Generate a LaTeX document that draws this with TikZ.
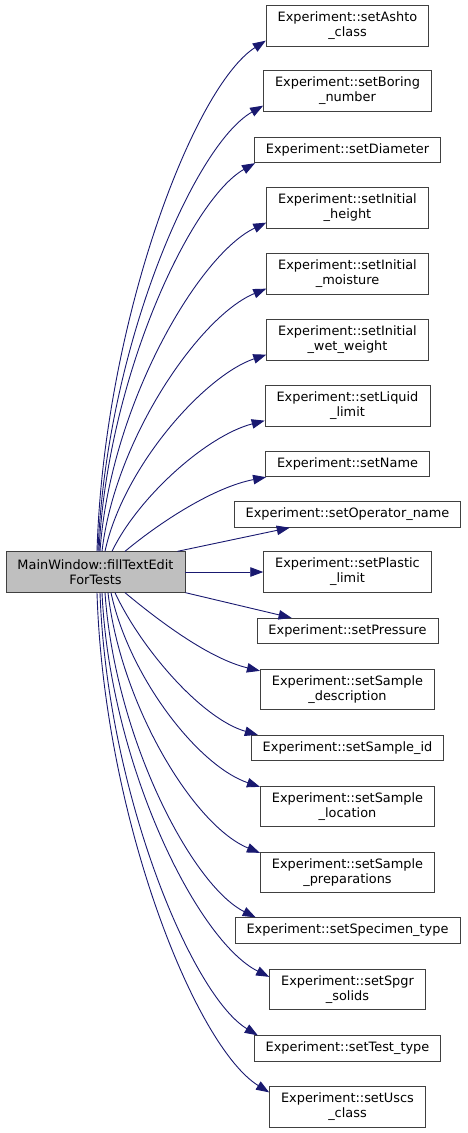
\documentclass[tikz,border=0pt]{standalone}
\usepackage{fontspec}
\newfontfamily\dgfont{DejaVu Sans}
\usetikzlibrary{positioning, arrows.meta}

\definecolor{midnight}{RGB}{25,25,112}
\definecolor{boxgray}{RGB}{191,191,191}

\begin{document}
\begin{tikzpicture}[
  x=1pt, y=-1pt,
  fnbox/.style={draw=black!75, fill=white, line width=0.8pt, inner xsep=11.5pt, inner ysep=2pt,
    align=center, font={\dgfont\fontsize{12.9}{15}\selectfont}},
  oneline/.style={fnbox, minimum height=25.5pt},
  twoline/.style={fnbox, minimum height=40.5pt},
  caller/.style={twoline, fill=boxgray},
  call/.style={-{Triangle[length=13pt, width=9.5pt]}, midnight, line width=0.9pt},
]
\useasboundingbox (0,0) rectangle (467,1133);

% Caller
\node[caller] (fill) at (95.5,572) {MainWindow::fillTextEdit\\ForTests};

% Callees (one column)
\node[twoline] (ashto)      at (347.5,26)    {Experiment::setAshto\\\_class};
\node[twoline] (boring)     at (347.5,91)    {Experiment::setBoring\\\_number};
\node[oneline] (diameter)   at (347.5,150)   {Experiment::setDiameter};
\node[twoline] (initheight) at (347.5,208)   {Experiment::setInitial\\\_height};
\node[twoline] (initmoist)  at (347.5,274)   {Experiment::setInitial\\\_moisture};
\node[twoline] (initwet)    at (347.5,340)   {Experiment::setInitial\\\_wet\_weight};
\node[twoline] (liquid)     at (347.5,406)   {Experiment::setLiquid\\\_limit};
\node[oneline] (setname)    at (347.5,464)   {Experiment::setName};
\node[oneline] (operator)   at (347.5,514.5) {Experiment::setOperator\_name};
\node[twoline] (plastic)    at (347.5,572)   {Experiment::setPlastic\\\_limit};
\node[oneline] (pressure)   at (347.5,631)   {Experiment::setPressure};
\node[twoline] (sampdesc)   at (347.5,689.5) {Experiment::setSample\\\_description};
\node[oneline] (sampid)     at (347.5,748)   {Experiment::setSample\_id};
\node[twoline] (samploc)    at (347.5,806.5) {Experiment::setSample\\\_location};
\node[twoline] (sampprep)   at (347.5,872.5) {Experiment::setSample\\\_preparations};
\node[oneline] (specimen)   at (347.5,930.5) {Experiment::setSpecimen\_type};
\node[twoline] (spgr)       at (347.5,989.5) {Experiment::setSpgr\\\_solids};
\node[oneline] (testtype)   at (347.5,1048.5) {Experiment::setTest\_type};
\node[twoline] (uscs)       at (347.5,1107)  {Experiment::setUscs\\\_class};

% Calls leaving the top
\draw[call] ([xshift=1.5pt]fill.north) .. controls +(7,-230) and +(-72,46) .. ([yshift=6pt]ashto.south west);
\draw[call] ([xshift=2.5pt]fill.north) .. controls +(8,-201) and +(-70,40) .. ([yshift=6pt]boring.south west);
\draw[call] ([xshift=3.5pt]fill.north) .. controls +(8,-174) and +(-64,36) .. ([xshift=1pt]diameter.south west);
\draw[call] ([xshift=4.5pt]fill.north) .. controls +(10,-145) and +(-68,32) .. ([yshift=6pt]initheight.south west);
\draw[call] ([xshift=6.5pt]fill.north) .. controls +(13,-113) and +(-66,27) .. ([yshift=6pt]initmoist.south west);
\draw[call] ([xshift=9.5pt]fill.north) .. controls +(18,-84) and +(-62,21) .. ([yshift=6pt]initwet.south west);
\draw[call] ([xshift=16.5pt]fill.north) .. controls +(26,-54) and +(-58,15) .. ([yshift=6pt]liquid.south west);
\draw[call] ([xshift=29.5pt]fill.north) .. controls +(36,-30) and +(-52,10) .. ([xshift=1pt]setname.south west);
\draw[call] ([xshift=-8pt]fill.north east) -- ([xshift=56pt]operator.south west);

% Calls leaving the side
\draw[call] (fill.east) -- (plastic.west);
\draw[call] (fill.south east) -- ([xshift=35pt]pressure.north west);

% Calls leaving the bottom
\draw[call] ([xshift=29.5pt]fill.south) .. controls +(36,30) and +(-50,-12) .. ([yshift=-2pt]sampdesc.north west);
\draw[call] ([xshift=19.5pt]fill.south) .. controls +(26,56) and +(-56,-16) .. ([xshift=7pt]sampid.north west);
\draw[call] ([xshift=15.5pt]fill.south) .. controls +(18,84) and +(-62,-21) .. ([yshift=-1pt]samploc.north west);
\draw[call] ([xshift=12.5pt]fill.south) .. controls +(13,113) and +(-66,-27) .. ([yshift=-1pt]sampprep.north west);
\draw[call] ([xshift=9.5pt]fill.south) .. controls +(10,145) and +(-64,-32) .. ([xshift=21pt]specimen.north west);
\draw[call] ([xshift=6.5pt]fill.south) .. controls +(8,172) and +(-72,-36) .. ([yshift=-8pt]spgr.north west);
\draw[call] ([xshift=4.5pt]fill.south) .. controls +(7,200) and +(-66,-40) .. ([xshift=4pt]testtype.north west);
\draw[call] ([xshift=1.5pt]fill.south) .. controls +(7,225) and +(-74,-46) .. ([yshift=-6pt]uscs.north west);
\end{tikzpicture}
\end{document}
